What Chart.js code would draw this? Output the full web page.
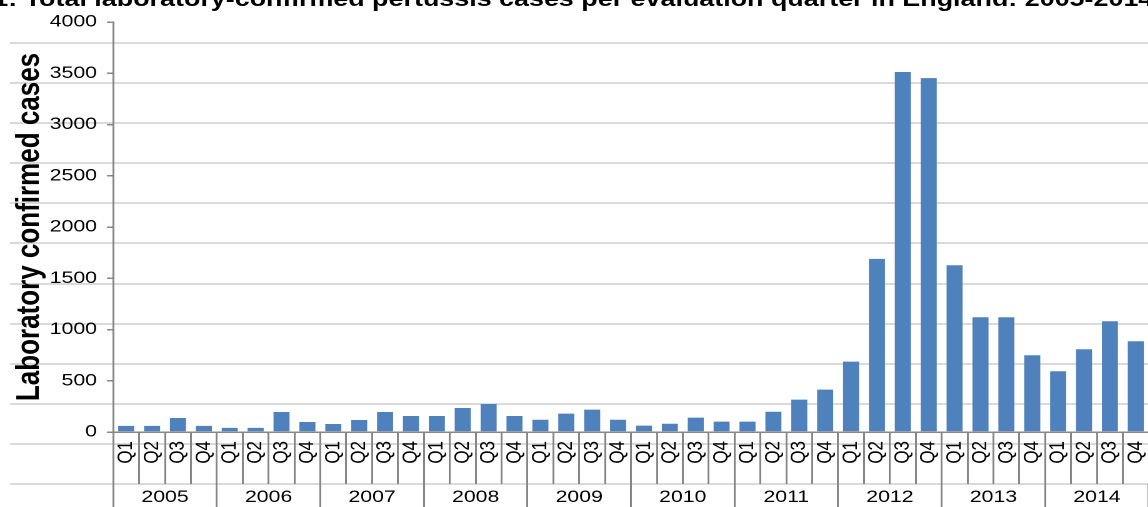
<!DOCTYPE html>
<html>
<head>
<meta charset="utf-8">
<script src="https://cdn.jsdelivr.net/npm/chart.js@4.4.1/dist/chart.umd.min.js"></script>
<style>
  html, body { margin: 0; padding: 0; background: #fff; overflow: hidden; }
  /* the source picture is stretched sideways, so the whole chart is too */
  #wrap { position: absolute; left: 0; top: 0; width: 920px; height: 507px; transform: scaleX(1.25); transform-origin: 0 0; }
  #box { position: absolute; left: 0; top: 0; width: 920px; height: 507px; }
  #title { position: absolute; left: -77px; top: -11px; white-space: nowrap; color: #000;
           font: bold 21.5px/21.5px "Liberation Sans", Arial, sans-serif; }
</style>
</head>
<body>
<div id="wrap">
  <div id="box"><canvas id="chart"></canvas></div>
  <div id="title">Figure 1: Total laboratory-confirmed pertussis cases per evaluation quarter in England: 2005-2014</div>
</div>
<script>
const years = ["2005", "2006", "2007", "2008", "2009", "2010", "2011", "2012", "2013", "2014"];
const quarters = ["Q1", "Q2", "Q3", "Q4"];
const quarterLabels = years.flatMap(() => quarters);
const cases = [
  60, 60, 137, 60,
  40, 40, 195, 98,
  78, 117, 195, 156,
  156, 234, 273, 156,
  120, 179, 218, 120,
  62, 81, 140, 101,
  101, 198, 316, 413,
  687, 1689, 3512, 3453,
  1627, 1120, 1120, 749,
  593, 807, 1081, 885
];
const yMin = 0, yMax = 4000, yStep = 500;
const yTitle = "Laboratory confirmed cases";

const axisGrey = "#868686";
const barBlue = "#4f81bd";

Chart.defaults.font.family = '"Liberation Sans", Arial, sans-serif';
Chart.defaults.font.size = 17;
Chart.defaults.color = "#000";

// faint horizontal rules behind the whole picture (they don't follow the y ticks)
const backgroundLines = {
  id: "backgroundLines",
  beforeDraw(chart) {
    const s = chart.scales.yGrid;
    const ctx = chart.ctx;
    ctx.save();
    ctx.strokeStyle = "#dadada";
    ctx.lineWidth = 2;
    for (let k = 0; k <= 11; k++) {
      const y = Math.round(s.getPixelForValue(k));
      ctx.beginPath();
      ctx.moveTo(8, y);
      ctx.lineTo(chart.width, y);
      ctx.stroke();
    }
    ctx.restore();
  }
};

const ctx = document.getElementById("chart").getContext("2d");
new Chart(ctx, {
  type: "bar",
  data: {
    labels: quarterLabels,
    datasets: [{
      data: cases,
      backgroundColor: barBlue,
      borderWidth: 0,
      categoryPercentage: 1,
      barPercentage: 0.62,
      xAxisID: "x",
      yAxisID: "y"
    }]
  },
  options: {
    responsive: true,
    maintainAspectRatio: false,
    animation: false,
    devicePixelRatio: 2,
    layout: { padding: { top: 22, right: 1, bottom: 0, left: 0 } },
    plugins: { legend: { display: false }, tooltip: { enabled: false } },
    scales: {
      y: {
        min: yMin,
        max: yMax,
        afterFit: (s) => { s.width = 90.6; },
        ticks: { stepSize: yStep, padding: 8, font: { size: 17 }, callback: (v) => String(v) },
        grid: { drawOnChartArea: false, drawTicks: true, tickLength: 5, color: axisGrey, lineWidth: 1.5 },
        border: { color: axisGrey, width: 1.5 },
        title: {
          display: true,
          text: yTitle,
          font: { size: 26, weight: "bold" },
          padding: { top: 8, bottom: 0 }
        }
      },
      yGrid: {
        type: "linear",
        display: false,
        min: 1.297,
        max: 11.524
      },
      x: {
        type: "category",
        position: "bottom",
        weight: 0,
        offset: true,
        afterFit: (s) => { s.height = 52; },
        ticks: { autoSkip: false, minRotation: 90, maxRotation: 90, padding: -43 },
        grid: { offset: true, drawOnChartArea: false, tickLength: 52, color: axisGrey, lineWidth: 1.5 },
        border: { color: axisGrey, width: 1.5 }
      },
      x2: {
        type: "category",
        labels: years,
        position: "bottom",
        weight: 1,
        offset: true,
        afterFit: (s) => { s.height = 23; },
        ticks: { autoSkip: false, minRotation: 0, maxRotation: 0, padding: -20 },
        grid: { offset: true, drawOnChartArea: false, tickLength: 23, color: axisGrey, lineWidth: 1.5 },
        border: { display: false }
      }
    }
  },
  plugins: [backgroundLines]
});
</script>
</body>
</html>
